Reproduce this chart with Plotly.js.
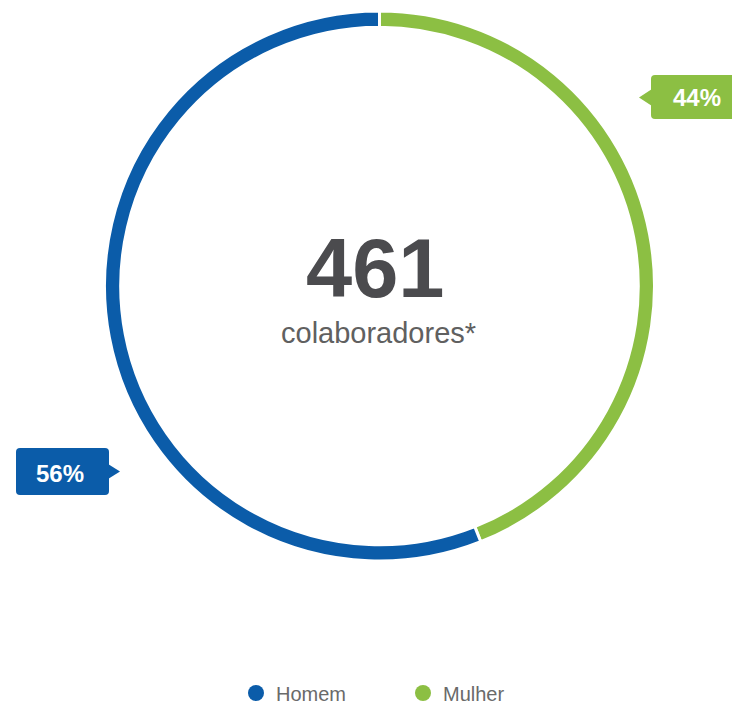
<!DOCTYPE html>
<html><head><meta charset="utf-8">
<script src="https://cdn.plot.ly/plotly-3.0.1.min.js"></script>
<style>html,body{margin:0;padding:0;background:#fff}</style>
</head><body>
<div id="chart" style="width:732px;height:705px"></div>
<script>
const categories = ["Homem", "Mulher"];
const percentages = [56, 44];
const colors = ["#0b5ca9", "#8cbf43"];
const totalLabel = "461";
const subLabel = "colaboradores*";
const percentLabels = ["56%", "44%"];

const W = 732, H = 705;
const px = x => x / W;
const py = y => 1 - y / H;

const traces = [{
  type: "pie",
  labels: categories.slice().reverse(),
  values: percentages.slice().reverse(),
  sort: false,
  direction: "clockwise",
  rotation: 0,
  hole: 0.941,
  marker: {colors: colors.slice().reverse(), line: {color: "#ffffff", width: 3}},
  textinfo: "none",
  hoverinfo: "skip",
  showlegend: false,
  domain: {x: [px(104), px(655)], y: [py(561), py(11)]}
}];
categories.forEach((c, i) => {
  traces.push({
    type: "scatter", mode: "markers", x: [null], y: [null], name: c,
    marker: {color: colors[i], size: 16, symbol: "circle"},
    hoverinfo: "skip", showlegend: true
  });
});

function box(x0, y0, x1, y1, r) {
  return `M${px(x0 + r)},${py(y0)} L${px(x1 - r)},${py(y0)} Q${px(x1)},${py(y0)} ${px(x1)},${py(y0 + r)} ` +
    `L${px(x1)},${py(y1 - r)} Q${px(x1)},${py(y1)} ${px(x1 - r)},${py(y1)} L${px(x0 + r)},${py(y1)} ` +
    `Q${px(x0)},${py(y1)} ${px(x0)},${py(y1 - r)} L${px(x0)},${py(y0 + r)} Q${px(x0)},${py(y0)} ${px(x0 + r)},${py(y0)} Z`;
}
function tri(pts) {
  return "M" + pts.map(p => `${px(p[0])},${py(p[1])}`).join(" L") + " Z";
}

const shapes = [
  {type: "path", xref: "paper", yref: "paper", path: box(16, 448, 109, 495, 4), fillcolor: colors[0], line: {width: 0}},
  {type: "path", xref: "paper", yref: "paper", path: tri([[108, 464], [120, 471.5], [108, 479]]), fillcolor: colors[0], line: {width: 0}},
  {type: "path", xref: "paper", yref: "paper", path: box(651, 75, 740, 119, 4), fillcolor: colors[1], line: {width: 0}},
  {type: "path", xref: "paper", yref: "paper", path: tri([[652, 89], [639, 97.5], [652, 106]]), fillcolor: colors[1], line: {width: 0}}
];

const annotations = [
  {xref: "paper", yref: "paper", x: px(375), y: py(268), text: "<b>" + totalLabel + "</b>", showarrow: false,
   font: {family: "Liberation Sans, Arial, sans-serif", size: 83, color: "#4b4b4e"}, xanchor: "center", yanchor: "middle"},
  {xref: "paper", yref: "paper", x: px(378.5), y: py(333), text: subLabel, showarrow: false,
   font: {family: "Liberation Sans, Arial, sans-serif", size: 29, color: "#606060"}, xanchor: "center", yanchor: "middle"},
  {xref: "paper", yref: "paper", x: px(60), y: py(473), text: "<b>" + percentLabels[0] + "</b>", showarrow: false,
   font: {family: "Liberation Sans, Arial, sans-serif", size: 24, color: "#ffffff"}, xanchor: "center", yanchor: "middle"},
  {xref: "paper", yref: "paper", x: px(697), y: py(98), text: "<b>" + percentLabels[1] + "</b>", showarrow: false,
   font: {family: "Liberation Sans, Arial, sans-serif", size: 24, color: "#ffffff"}, xanchor: "center", yanchor: "middle"}
];

const layout = {
  width: W, height: H,
  margin: {l: 0, r: 0, t: 0, b: 0, autoexpand: false},
  paper_bgcolor: "#ffffff", plot_bgcolor: "rgba(0,0,0,0)",
  xaxis: {visible: false, domain: [0, 0.01]},
  yaxis: {visible: false, domain: [0, 0.01]},
  showlegend: true,
  legend: {orientation: "h", x: px(236), y: py(693), xanchor: "left", yanchor: "middle",
    entrywidth: 122, entrywidthmode: "pixels",
    font: {family: "Liberation Sans, Arial, sans-serif", size: 20, color: "#6a6a6a"},
    bgcolor: "rgba(0,0,0,0)"},
  shapes: shapes,
  annotations: annotations,
  hovermode: false
};

Plotly.newPlot("chart", traces, layout, {displayModeBar: false, staticPlot: true});
</script>
</body></html>
